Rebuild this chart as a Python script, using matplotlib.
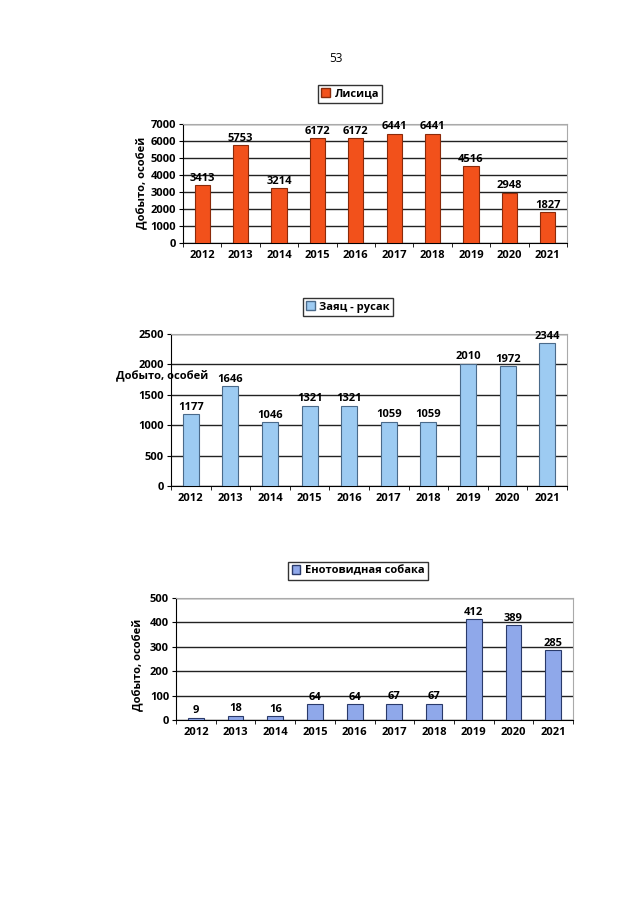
import numpy as np
import matplotlib
matplotlib.use('Agg')
import matplotlib.pyplot as plt
from matplotlib.patches import Patch

plt.rcParams['font.family'] = ['Open Sans', 'DejaVu Sans']

years = ['2012', '2013', '2014', '2015', '2016', '2017', '2018', '2019', '2020', '2021']
fox = [3413, 5753, 3214, 6172, 6172, 6441, 6441, 4516, 2948, 1827]
hare = [1177, 1646, 1046, 1321, 1321, 1059, 1059, 2010, 1972, 2344]
raccoon = [9, 18, 16, 64, 64, 67, 67, 412, 389, 285]

W, H = 640, 905
fig = plt.figure(figsize=(6.4, 9.05), dpi=100)
fig.patch.set_facecolor('white')


def px_axes(l, t, r, b):
    return fig.add_axes([l / W, 1 - b / H, (r - l) / W, (b - t) / H])


def draw_chart(ax, values, ymax, step, color, edge, name, legend_box, ylabel_pos, ylabel_rot):
    x = np.arange(len(values))
    ax.bar(x, values, width=0.4, color=color, edgecolor=edge, linewidth=0.8, zorder=3)
    ax.set_xlim(-0.5, len(values) - 0.5)
    ax.set_ylim(0, ymax)
    ax.set_yticks(np.arange(0, ymax + 1, step))
    ax.yaxis.grid(True, color='#222222', linewidth=1.0, zorder=0)
    ax.set_xticks(x)
    ax.set_xticklabels(years)
    ax.set_xticks(np.arange(-0.5, len(values), 1), minor=True)
    ax.tick_params(axis='x', which='major', length=0, labelsize=8, pad=5)
    ax.tick_params(axis='x', which='minor', length=3, direction='out')
    ax.tick_params(axis='y', length=3, labelsize=8, pad=2)
    for lbl in ax.get_xticklabels() + ax.get_yticklabels():
        lbl.set_fontweight('bold')
    ax.spines['left'].set_color('black')
    ax.spines['bottom'].set_color('black')
    ax.spines['top'].set_color('#aaaaaa')
    ax.spines['right'].set_color('#aaaaaa')
    for xi, v in zip(x, values):
        ax.annotate(str(v), (xi, v), xytext=(0, 1), textcoords='offset points',
                    ha='center', va='bottom', fontsize=8, fontweight='bold', zorder=4)
    # legend box
    cx, cy = legend_box
    fig.legend(handles=[Patch(facecolor=color, edgecolor=edge, label=name)],
               loc='center', bbox_to_anchor=(cx / W, 1 - cy / H),
               prop={'size': 8, 'weight': 'bold'}, frameon=True, fancybox=False,
               edgecolor='black', handlelength=0.8, handleheight=0.8,
               handletextpad=0.4, borderpad=0.3)
    lx, ly = ylabel_pos
    fig.text(lx / W, 1 - ly / H, 'Добыто, особей', rotation=ylabel_rot,
             ha='center', va='center', fontsize=8, fontweight='bold')


ax1 = px_axes(183, 124, 567, 243)
draw_chart(ax1, fox, 7000, 1000, '#F2511B', '#8a2a0a', 'Лисица',
           (350, 94), (142, 183), 90)

ax2 = px_axes(171, 334, 567, 486)
draw_chart(ax2, hare, 2500, 500, '#9DCBF2', '#4a6a8a', 'Заяц - русак',
           (348, 307), (162, 376), 0)

ax3 = px_axes(176, 598, 573, 720)
draw_chart(ax3, raccoon, 500, 100, '#8FA8EA', '#2a3a6a', 'Енотовидная собака',
           (358, 571), (138, 665), 90)

fig.text(336 / W, 1 - 58 / H, '53', ha='center', va='center', fontsize=8.5)

fig.savefig('out.png', dpi=100, facecolor='white')
